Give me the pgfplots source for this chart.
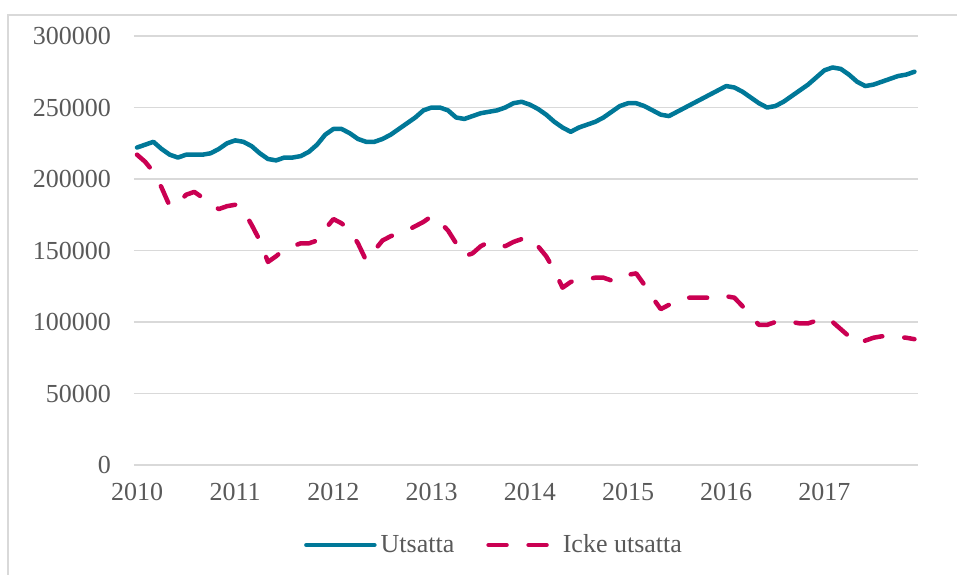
\documentclass[border=0pt]{standalone}
\usepackage{fontspec}
\setmainfont{Liberation Serif}
\usepackage{pgfplots}
\usepackage{pgfplotstable}
\pgfplotsset{compat=1.18}

\definecolor{utblue}{RGB}{0,120,152}
\definecolor{ickered}{RGB}{202,0,82}
\definecolor{gridgray}{RGB}{217,217,217}
\definecolor{txtgray}{RGB}{89,89,89}

% monthly values, jan 2010 = 0
\pgfplotstableread{
m  ut     icke
0  222000 217000
1  224000 212000
2  226000 205000
3  221000 194000
4  217000 181000
5  215000 183000
6  217000 189000
7  217000 191000
8  217000 187000
9  218000 182000
10 221000 179000
11 225000 181000
12 227000 182000
13 226000 178000
14 223000 168000
15 218000 157000
16 214000 142000
17 213000 146000
18 215000 151000
19 215000 153000
20 216000 155000
21 219000 155000
22 224000 157000
23 231000 165000
24 235000 172000
25 235000 169000
26 232000 164000
27 228000 155000
28 226000 143000
29 226000 150000
30 228000 157000
31 231000 160000
32 235000 162000
33 239000 164000
34 243000 167000
35 248000 170000
36 250000 174000
37 250000 170000
38 248000 164000
39 243000 155000
40 242000 146000
41 244000 148000
42 246000 153000
43 247000 156000
44 248000 155000
45 250000 153000
46 253000 156000
47 254000 158000
48 252000 159000
49 249000 153000
50 245000 146000
51 240000 136000
52 236000 124000
53 233000 128000
54 236000 130000
55 238000 130000
56 240000 131000
57 243000 131000
58 247000 129000
59 251000 133000
60 253000 133000
61 253000 134000
62 251000 126000
63 248000 117000
64 245000 109000
65 244000 112000
66 247000 115000
67 250000 117000
68 253000 117000
69 256000 117000
70 259000 117000
71 262000 119000
72 265000 118000
73 264000 117000
74 261000 111000
75 257000 104000
76 253000 98000
77 250000 98000
78 251000 100000
79 254000 101000
80 258000 100000
81 262000 99000
82 266000 99000
83 271000 101000
84 276000 103000
85 278000 100000
86 277000 95000
87 273000 90000
88 268000 85000
89 265000 87000
90 266000 89000
91 268000 90000
92 270000 90000
93 272000 89500
94 273000 89000
95 275000 88000
}\datatable

\begin{document}
\begin{tikzpicture}
\useasboundingbox (-67pt,-54.5pt) rectangle (411.5pt,232.5pt);
\draw[gridgray, line width=0.75pt] (-63pt,-80pt) -- (-63pt,225pt) -- (430pt,225pt);
\begin{axis}[
  at={(0,0)}, anchor=south west,
  scale only axis,
  width=392pt, height=214.5pt,
  xmin=-0.37, xmax=95.44,
  ymin=0, ymax=300000,
  xtick={0,12,...,84},
  xticklabels={2010,2011,2012,2013,2014,2015,2016,2017},
  ytick={0,50000,...,300000},
  scaled y ticks=false,
  yticklabel style={/pgf/number format/fixed, /pgf/number format/1000 sep={}},
  /pgf/number format/assume math mode=true,
  ticklabel style={font=\fontsize{13}{15}\selectfont, text=txtgray},
  xticklabel style={yshift=-5.5pt},
  yticklabel style={xshift=-8pt},
  major tick length=0pt,
  axis line style={draw=none},
  ymajorgrids,
  grid style={gridgray, line width=0.75pt},
  legend style={at={(0.4605,-0.1865)}, anchor=center, draw=none,
    legend columns=2, font=\fontsize{13}{15}\selectfont, text=txtgray,
    /tikz/every even column/.append style={column sep=14pt}},
  legend image code/.code={\draw[#1] (0pt,0pt) -- (34pt,0pt);},
]
\addplot[utblue, line width=2.25pt, line cap=round, line join=round]
  table[x=m, y=ut] {\datatable};
\addlegendentry{Utsatta}
\addplot[ickered, line width=2.25pt, line cap=round, line join=round,
  dash pattern=on 9pt off 11pt]
  table[x=m, y=icke] {\datatable};
\addlegendentry{Icke utsatta}
\end{axis}
\end{tikzpicture}
\end{document}
